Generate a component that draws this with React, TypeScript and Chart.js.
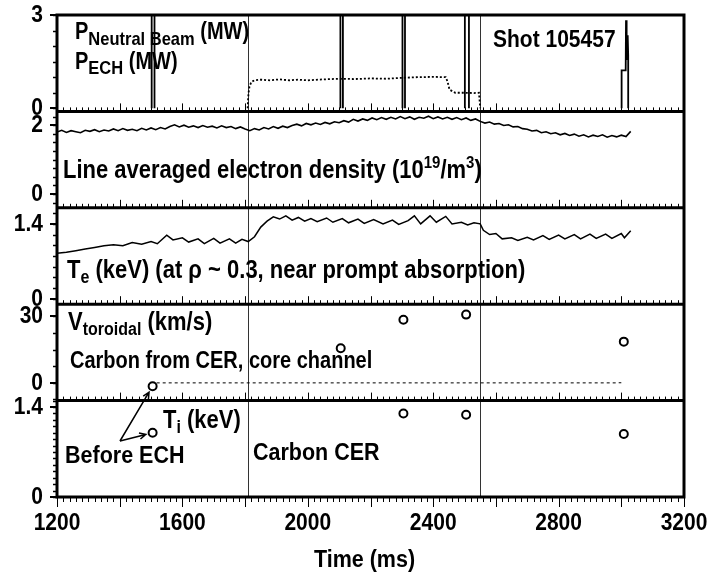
import React, { useEffect, useRef } from "react";
import { Chart, registerables } from "chart.js";

Chart.register(...registerables);

// ---------- data ----------
const timeTickLabels = [1200, 1600, 2000, 2400, 2800, 3200];
const echOnOffTimes = [1810, 2550];

// Panel 1: neutral beam pulses (MW)
const nbTimes = [
  1502, 1502, 1511, 1511, 1511,
  2104, 2104, 2112, 2112, 2112,
  2302, 2302, 2310, 2310, 2310,
  2501, 2501, 2514, 2514, 2514,
  3001, 3001, 3014, 3015, 3016, 3017, 3018, 3019, 3020, 3021, 3022, 3022,
];
const nbPower = [
  0, 3.4, 3.4, 0, null,
  0, 3.4, 3.4, 0, null,
  0, 3.4, 3.4, 0, null,
  0, 3.4, 3.4, 0, null,
  0, 1.22, 1.22, 2.83, 1.55, 2.4, 1.6, 2.35, 1.65, 2.3, 1.7, 0,
];

// Panel 1: ECH power (MW)
const echTimes = [
  1808, 1809, 1811, 1814, 1820, 1830, 1850, 1880, 1910, 1940, 1970, 2000, 2050, 2100,
  2150, 2200, 2250, 2300, 2350, 2400, 2440, 2446, 2452, 2470, 2500, 2530, 2546, 2550,
];
const echPower = [
  0, 0.2, 0.5, 0.7, 0.85, 0.9, 0.92, 0.9, 0.93, 0.9, 0.92, 0.9, 0.93, 0.95,
  0.94, 0.96, 0.95, 0.98, 1.0, 1.01, 1.0, 0.85, 0.6, 0.5, 0.5, 0.49, 0.5, 0,
];

// Panel 2: line averaged electron density (1e19 m^-3)
const densTimes = [
  1200, 1215, 1230, 1245, 1260, 1275, 1290, 1305, 1320, 1335,
  1350, 1365, 1380, 1395, 1410, 1425, 1440, 1455, 1470, 1485,
  1500, 1515, 1530, 1545, 1560, 1575, 1590, 1605, 1620, 1635,
  1650, 1665, 1680, 1695, 1710, 1725, 1740, 1755, 1770, 1785,
  1800, 1815, 1830, 1845, 1860, 1875, 1890, 1905, 1920, 1935,
  1950, 1965, 1980, 1995, 2010, 2025, 2040, 2055, 2070, 2085,
  2100, 2115, 2130, 2145, 2160, 2175, 2190, 2205, 2220, 2235,
  2250, 2265, 2280, 2295, 2310, 2325, 2340, 2355, 2370, 2385,
  2400, 2415, 2430, 2445, 2460, 2475, 2490, 2505, 2520, 2535,
  2550, 2565, 2580, 2595, 2610, 2625, 2640, 2655, 2670, 2685,
  2700, 2715, 2730, 2745, 2760, 2775, 2790, 2805, 2820, 2835,
  2850, 2865, 2880, 2895, 2910, 2925, 2940, 2955, 2970, 2985,
  3000, 3015, 3030,
];
const densValues = [
  1.80, 1.85, 1.79, 1.84, 1.81, 1.78, 1.85, 1.82, 1.87, 1.81,
  1.86, 1.83, 1.89, 1.84, 1.90, 1.85, 1.88, 1.84, 1.91, 1.86,
  1.92, 1.87, 1.93, 1.89, 1.96, 2.01, 1.95, 2.00, 1.94, 1.98,
  1.93, 1.99, 1.94, 1.97, 1.92, 1.98, 1.93, 1.96, 1.90, 1.95,
  1.89, 1.84, 1.90, 1.86, 1.93, 1.89, 1.96, 1.91, 1.97, 1.93,
  1.99, 2.03, 1.98, 2.05, 2.01, 2.06, 2.02, 2.08, 2.04, 2.10,
  2.07, 2.13, 2.09, 2.17, 2.12, 2.18, 2.14, 2.21, 2.16, 2.22,
  2.17, 2.23, 2.18, 2.25, 2.19, 2.24, 2.17, 2.23, 2.20, 2.26,
  2.19, 2.24, 2.18, 2.23, 2.17, 2.22, 2.16, 2.21, 2.14, 2.18,
  2.11, 2.06, 2.09, 2.03, 2.05, 1.99, 2.01, 1.95, 1.96, 1.90,
  1.88, 1.83, 1.85, 1.78, 1.81, 1.75, 1.78, 1.72, 1.76, 1.70,
  1.74, 1.68, 1.72, 1.66, 1.71, 1.67, 1.72, 1.65, 1.70, 1.66,
  1.71, 1.67, 1.82,
];

// Panel 3: electron temperature (keV)
const teTimes = [
  1200, 1230, 1260, 1290, 1320, 1350, 1380, 1410, 1440, 1470, 1500, 1520, 1550, 1570,
  1600, 1620, 1650, 1670, 1700, 1720, 1750, 1770, 1790, 1810, 1830, 1850, 1870, 1890,
  1910, 1930, 1950, 1970, 1990, 2010, 2030, 2060, 2080, 2110, 2130, 2160, 2180, 2210,
  2240, 2270, 2290, 2320, 2340, 2360, 2390, 2410, 2440, 2460, 2490, 2510, 2530, 2550,
  2560, 2580, 2600, 2620, 2650, 2670, 2700, 2720, 2750, 2770, 2800, 2820, 2850, 2870,
  2900, 2920, 2950, 2970, 3000, 3010, 3030,
];
const teValues = [
  0.85, 0.87, 0.90, 0.93, 0.96, 0.99, 1.01, 0.99, 1.05, 1.02, 1.07, 1.03, 1.19, 1.10,
  1.14, 1.06, 1.12, 1.03, 1.13, 1.04, 1.12, 1.04, 1.11, 1.07, 1.16, 1.34, 1.45, 1.53,
  1.49, 1.55, 1.47, 1.52, 1.45, 1.50, 1.44, 1.51, 1.43, 1.50, 1.42, 1.49, 1.41, 1.48,
  1.40, 1.47, 1.39, 1.46, 1.55, 1.40, 1.55, 1.43, 1.54, 1.40, 1.43, 1.38, 1.42, 1.40,
  1.28, 1.20, 1.22, 1.12, 1.14, 1.09, 1.15, 1.10, 1.18, 1.11, 1.19, 1.12, 1.20, 1.12,
  1.21, 1.13, 1.21, 1.13, 1.22, 1.14, 1.27,
];

// Panel 4: toroidal velocity (km/s), carbon CER
const vtorTimes = [1505, 2105, 2305, 2505, 3008];
const vtorValues = [-1.5, 15.6, 28.5, 30.8, 18.6];
const zeroRefTimes = [1518, 3000];
const zeroRefValues = [0, 0];

// Panel 5: ion temperature (keV), carbon CER
const tiTimes = [1505, 2305, 2505, 3008];
const tiValues = [1.0, 1.3, 1.28, 0.98];

// Axis tick labels per panel
const p1Ticks = [0, 3];
const p2Ticks = [0, 2];
const p3Ticks = [0, 1.4];
const p4Ticks = [0, 30];
const p5Ticks = [0, 1.4];

// ---------- helpers ----------
const FONT = '"Liberation Sans", Arial, Helvetica, sans-serif';
const STRETCH = 1.15;

type Seg = { t: string; size: number; dy?: number };

function drawRich(ctx: CanvasRenderingContext2D, x: number, y: number, segs: Seg[], align: "left" | "center" = "left") {
  ctx.save();
  ctx.fillStyle = "#000";
  ctx.textBaseline = "alphabetic";
  ctx.textAlign = "left";
  let total = 0;
  for (const s of segs) {
    ctx.font = `bold ${s.size}px ${FONT}`;
    total += ctx.measureText(s.t).width;
  }
  ctx.translate(align === "center" ? x - total / 2 : x, y);
  ctx.scale(1, STRETCH);
  let cx = 0;
  for (const s of segs) {
    ctx.font = `bold ${s.size}px ${FONT}`;
    ctx.fillText(s.t, cx, s.dy || 0);
    cx += ctx.measureText(s.t).width;
  }
  ctx.restore();
}

function drawLabelRight(ctx: CanvasRenderingContext2D, text: string, xRight: number, yMid: number, size: number) {
  ctx.save();
  ctx.fillStyle = "#000";
  ctx.font = `bold ${size}px ${FONT}`;
  ctx.textAlign = "right";
  ctx.textBaseline = "middle";
  ctx.translate(xRight, yMid);
  ctx.scale(1, STRETCH);
  ctx.fillText(text, 0, 0);
  ctx.restore();
}

function arrow(ctx: CanvasRenderingContext2D, x0: number, y0: number, x1: number, y1: number) {
  const a = Math.atan2(y1 - y0, x1 - x0);
  const h = 7;
  ctx.beginPath();
  ctx.moveTo(x0, y0);
  ctx.lineTo(x1, y1);
  ctx.moveTo(x1 - h * Math.cos(a - 0.45), y1 - h * Math.sin(a - 0.45));
  ctx.lineTo(x1, y1);
  ctx.lineTo(x1 - h * Math.cos(a + 0.45), y1 - h * Math.sin(a + 0.45));
  ctx.stroke();
}

const panelIds = ["y1", "y2", "y3", "y4", "y5"];
const panelTickLabels: Record<string, number[]> = { y1: p1Ticks, y2: p2Ticks, y3: p3Ticks, y4: p4Ticks, y5: p5Ticks };
const minorSteps: Record<string, number> = { y1: 0.5, y2: 0.25, y3: 0.2, y4: 7.5, y5: 0.1 };

const framePlugin = {
  id: "framePlugin",
  beforeDatasetsDraw(chart: any) {
    const ctx: CanvasRenderingContext2D = chart.ctx;
    const { top, bottom } = chart.chartArea;
    const xs = chart.scales.x;
    ctx.save();
    ctx.strokeStyle = "#333";
    ctx.lineWidth = 1;
    for (const t of echOnOffTimes) {
      const px = Math.round(xs.getPixelForValue(t)) + 0.5;
      ctx.beginPath();
      ctx.moveTo(px, top);
      ctx.lineTo(px, bottom);
      ctx.stroke();
    }
    ctx.restore();
  },
  afterDatasetsDraw(chart: any) {
    const ctx: CanvasRenderingContext2D = chart.ctx;
    const { left, right, top, bottom } = chart.chartArea;
    const xs = chart.scales.x;
    ctx.save();
    ctx.strokeStyle = "#000";
    ctx.lineCap = "butt";

    // x ticks on each panel bottom
    ctx.lineWidth = 1;
    panelIds.forEach((id, i) => {
      const sc = chart.scales[id];
      const yb = sc.bottom;
      const isLast = i === panelIds.length - 1;
      for (let t = 1200; t <= 3200; t += 20) {
        const px = Math.round(xs.getPixelForValue(t)) + 0.5;
        const major = t % 200 === 0;
        const len = major ? (isLast ? 10 : 8) : (isLast ? 5 : 4);
        ctx.beginPath();
        if (isLast) {
          ctx.moveTo(px, yb);
          ctx.lineTo(px, yb + len);
        } else {
          ctx.moveTo(px, yb);
          ctx.lineTo(px, yb - len);
        }
        ctx.stroke();
      }
    });

    // y ticks on the left of each panel
    panelIds.forEach((id) => {
      const sc = chart.scales[id];
      const step = minorSteps[id];
      ctx.lineWidth = 1.5;
      for (let k = Math.ceil(sc.min / step - 1e-6); k * step <= sc.max + 1e-6; k++) {
        const py = Math.round(sc.getPixelForValue(k * step)) + 0.5;
        ctx.beginPath();
        ctx.moveTo(left - 4, py);
        ctx.lineTo(left, py);
        ctx.stroke();
      }
      ctx.lineWidth = 2;
      for (const v of panelTickLabels[id]) {
        const py = Math.round(sc.getPixelForValue(v));
        ctx.beginPath();
        ctx.moveTo(left - 7, py);
        ctx.lineTo(left, py);
        ctx.stroke();
        drawLabelRight(ctx, String(v), left - 14, py, 21);
      }
    });

    // frame and separators
    ctx.lineWidth = 3;
    ctx.strokeRect(left, top, right - left, bottom - top);
    panelIds.slice(0, 4).forEach((id) => {
      const yb = chart.scales[id].bottom;
      ctx.beginPath();
      ctx.moveTo(left, yb);
      ctx.lineTo(right, yb);
      ctx.stroke();
    });

    // x tick labels and title
    for (const t of timeTickLabels) {
      drawRich(ctx, xs.getPixelForValue(t), bottom + 33, [{ t: String(t), size: 21 }], "center");
    }
    drawRich(ctx, (left + right) / 2 - 6, 567, [{ t: "Time (ms)", size: 21.5 }], "center");

    // annotations
    drawRich(ctx, 75, 39, [{ t: "P", size: 20 }, { t: "Neutral Beam", size: 16.5, dy: 5 }, { t: " (MW)", size: 20 }]);
    drawRich(ctx, 75, 69, [{ t: "P", size: 20 }, { t: "ECH", size: 16.5, dy: 4 }, { t: " (MW)", size: 20 }]);
    drawRich(ctx, 493, 47, [{ t: "Shot 105457", size: 21 }]);
    drawRich(ctx, 63, 178, [
      { t: "Line averaged electron density (10", size: 22 },
      { t: "19", size: 15, dy: -8.5 },
      { t: "/m", size: 22 },
      { t: "3", size: 15, dy: -8.5 },
      { t: ")", size: 22 },
    ]);
    drawRich(ctx, 67, 278, [
      { t: "T", size: 22 },
      { t: "e", size: 16, dy: 4.5 },
      { t: " (keV) (at \u03c1 ~ 0.3, near prompt absorption)", size: 22 },
    ]);
    drawRich(ctx, 68, 330, [
      { t: "V", size: 22 },
      { t: "toroidal", size: 16, dy: 4.5 },
      { t: " (km/s)", size: 22 },
    ]);
    drawRich(ctx, 70, 368, [{ t: "Carbon from CER, core channel", size: 20 }]);
    drawRich(ctx, 163, 428, [{ t: "T", size: 22 }, { t: "i", size: 16, dy: 4.5 }, { t: " (keV)", size: 22 }]);
    drawRich(ctx, 65, 463, [{ t: "Before ECH", size: 21.5 }]);
    drawRich(ctx, 253, 460, [{ t: "Carbon CER", size: 21.5 }]);

    // arrows from "Before ECH" to the pre-ECH points
    const tailX = 120, tailY = 441;
    const targets = [
      { px: xs.getPixelForValue(vtorTimes[0]), py: chart.scales.y4.getPixelForValue(vtorValues[0]) },
      { px: xs.getPixelForValue(tiTimes[0]), py: chart.scales.y5.getPixelForValue(tiValues[0]) },
    ];
    ctx.lineWidth = 1.5;
    for (const tg of targets) {
      const dx = tg.px - tailX, dy = tg.py - tailY;
      const d = Math.hypot(dx, dy);
      const tipX = tg.px - (dx / d) * 7;
      const tipY = tg.py - (dy / d) * 7;
      arrow(ctx, tailX, tailY, tipX, tipY);
    }
    ctx.restore();
  },
};

function yPanel(min: number, max: number) {
  return {
    type: "linear" as const,
    min,
    max,
    stack: "panels",
    stackWeight: 1,
    position: "left" as const,
    display: true,
    ticks: { display: false },
    grid: { display: false, drawTicks: false },
    border: { display: false },
    afterFit: (s: any) => {
      s.width = 57;
    },
  };
}

const pts = (xs: number[], ys: (number | null)[]) => xs.map((x, i) => ({ x, y: ys[i] }));

export default function App() {
  const ref = useRef<HTMLCanvasElement | null>(null);

  useEffect(() => {
    if (!ref.current) return;
    const lineBase = { pointRadius: 0, borderColor: "#000", fill: false, tension: 0, spanGaps: false };
    const chart = new Chart(ref.current, {
      type: "line",
      data: {
        datasets: [
          { ...lineBase, label: "P NB", data: pts(nbTimes, nbPower), yAxisID: "y1", borderWidth: 1.8 },
          { ...lineBase, label: "P ECH", data: pts(echTimes, echPower), yAxisID: "y1", borderWidth: 1.8, borderDash: [2, 2] },
          { ...lineBase, label: "ne", data: pts(densTimes, densValues), yAxisID: "y2", borderWidth: 1.6 },
          { ...lineBase, label: "Te", data: pts(teTimes, teValues), yAxisID: "y3", borderWidth: 1.5 },
          { ...lineBase, label: "zero", data: pts(zeroRefTimes, zeroRefValues), yAxisID: "y4", borderWidth: 1, borderDash: [3, 3] },
          {
            label: "Vtor", data: pts(vtorTimes, vtorValues), yAxisID: "y4", showLine: false,
            pointRadius: 4, pointBorderWidth: 2, pointBorderColor: "#000", pointBackgroundColor: "#fff",
            borderColor: "#000", backgroundColor: "#fff",
          },
          {
            label: "Ti", data: pts(tiTimes, tiValues), yAxisID: "y5", showLine: false,
            pointRadius: 4, pointBorderWidth: 2, pointBorderColor: "#000", pointBackgroundColor: "#fff",
            borderColor: "#000", backgroundColor: "#fff",
          },
        ],
      },
      options: {
        animation: false,
        responsive: true,
        maintainAspectRatio: false,
        parsing: true,
        layout: { padding: { top: 15, right: 25, left: 0, bottom: 0 } },
        plugins: { legend: { display: false }, tooltip: { enabled: false } },
        events: [],
        scales: {
          x: {
            type: "linear",
            min: 1200,
            max: 3200,
            position: "bottom",
            ticks: { display: false },
            grid: { display: false, drawTicks: false },
            border: { display: false },
            afterFit: (s: any) => {
              s.height = 76;
            },
          },
          y5: yPanel(0, 1.5),
          y4: yPanel(-8, 35.5),
          y3: yPanel(-0.1, 1.7),
          y2: yPanel(-0.4, 2.4),
          y1: yPanel(-0.1, 3),
        },
      } as any,
      plugins: [framePlugin],
    });
    return () => chart.destroy();
  }, []);

  return (
    <div style={{ position: "absolute", left: 0, top: 0, width: 709, height: 573, background: "#fff" }}>
      <canvas ref={ref} />
    </div>
  );
}
